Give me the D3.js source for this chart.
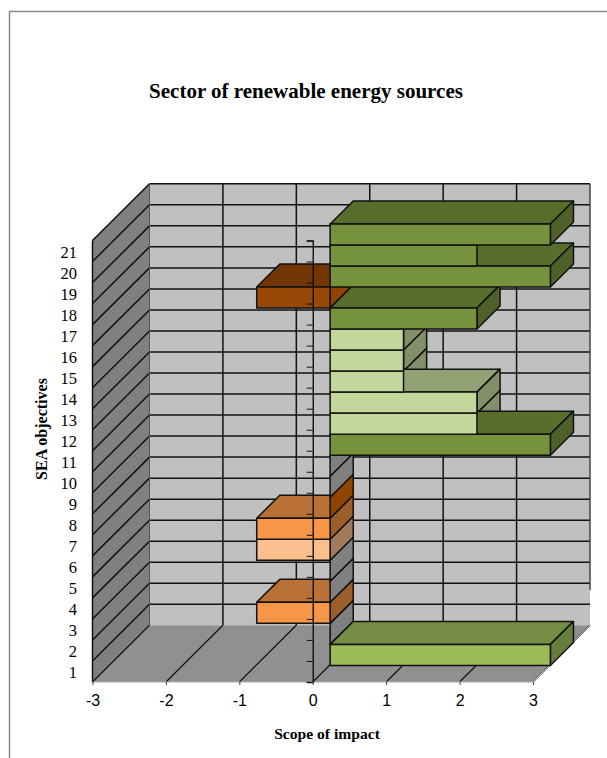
<!DOCTYPE html>
<html><head><meta charset="utf-8">
<script src="https://cdn.jsdelivr.net/npm/d3@7"></script>
<style>html,body{margin:0;padding:0;background:#fff}svg{display:block}</style>
</head><body><div id="c"></div>
<script>
const categories = d3.range(1, 22).map(String);
const values = [3, 0, -1, 0, 0, -1, -1, 0, 0, 0, 3, 2, 2, 1, 1, 1, 2, -1, 3, 2, 3];
const tones = ["lime","none","orange","none","none","pale","orange","brown","none","none","green","sage","sage","sage","sage","sage","green","brown","green","green","green"];
const xTicks = [-3, -2, -1, 0, 1, 2, 3];
const titleText = "Sector of renewable energy sources";
const xTitle = "Scope of impact";
const yTitle = "SEA objectives";

const palette = {
  lime:   {front:"#9bbb59", top:"#748c43", side:"#677d3b"},
  none:   {front:"#808080", top:"#808080", side:"#808080"},
  orange: {front:"#f79646", top:"#b97135", side:"#9c5f2c"},
  pale:   {front:"#fcc08e", top:"#bd906a", side:"#a07a5a"},
  brown:  {front:"#974806", top:"#713604", side:"#8f4400"},
  green:  {front:"#76923c", top:"#596e2d", side:"#4f6128"},
  sage:   {front:"#c3d69b", top:"#92a174", side:"#838f68"}
};

const W = 607, H = 758;
const svg = d3.select("#c").append("svg").attr("width", W).attr("height", H);

const x = d3.scaleLinear().domain([-3, 3]).range([92.5, 533]);
const y = d3.scaleLinear().domain([0, 21]).range([682, 240.5]);
const band = d3.scaleBand().domain(categories).range([682, 240.5]);
const DX = 57, DY = 56.7;
const P = (v, c, d) => [x(v) + DX * d, y(c) - DY * d];
const pts = a => a.map(p => p.map(n => n.toFixed(2)).join(",")).join(" ");
const d0 = 0.305, d1 = 0.71;
const line = "#111";
const sw = 1.5;

svg.append("path").attr("d", `M9.5,${H}V11.5H${W}`).attr("fill","none").attr("stroke","#8a8a8a").attr("stroke-width",1.5);

const g = svg.append("g");
g.append("polygon").attr("points", pts([P(-3,0,1),P(3,0,1),P(3,21,1),P(-3,21,1)])).attr("fill","#c0c0c0");
g.append("polygon").attr("points", pts([P(-3,0,0),P(-3,0,1),P(-3,21,1),P(-3,21,0)])).attr("fill","#808080");
g.append("polygon").attr("points", pts([P(-3,0,0),P(3,0,0),P(3,0,1),P(-3,0,1)])).attr("fill","#909090");

const gl = g.append("g").attr("stroke", line).attr("stroke-width",sw).attr("fill","none");
const seg = (a,b) => gl.append("line").attr("x1",a[0]).attr("y1",a[1]).attr("x2",b[0]).attr("y2",b[1]);
d3.range(1,22).forEach(c => {
  seg(P(-3,c,1), P(3,c,1));
  seg(P(-3,c,0), P(-3,c,1));
});
xTicks.forEach(v => {
  if (v > -3 && v < 3) seg(P(v,0,1), P(v,21,1));
  if (v > -3) seg(P(v,0,0), P(v,0,1)).attr("stroke-width",1.2);
});
seg(P(-3,0,0), P(-3,0,1)).attr("stroke-width",1.2);
seg(P(-3,21,0), P(-3,0,0));
seg(P(-3,21,1), P(-3,0,1)).attr("stroke","#555").attr("stroke-width",1);
seg(P(3,21,1), P(3,1.68,1)).attr("stroke","#444");
svg.append("line").attr("x1",x(-3)).attr("x2",x(3)).attr("y1",682).attr("y2",682).attr("stroke","#aaa").attr("stroke-width",1);
svg.append("line").attr("x1",x(3)).attr("y1",682).attr("x2",x(3)+DX).attr("y2",682-DY).attr("stroke","#ccc").attr("stroke-width",1);

const bars = categories.map((c,i) => ({c, i, v: values[i], lo: Math.min(0,values[i]), hi: Math.max(0,values[i]), col: palette[tones[i]]}));
const bg = svg.append("g").attr("transform","translate(0,0.7)").attr("stroke", line).attr("stroke-width",sw).attr("stroke-linejoin","round");
// paint by bar end, left to right: top faces, then end faces at that x
d3.sort(d3.union(bars.map(b => b.hi))).forEach(h => {
  bars.filter(b => b.hi === h && b.hi > b.lo).forEach(b => {
    bg.append("polygon").attr("fill", b.col.top).attr("points", pts([P(b.lo,b.i+1,d0),P(b.hi,b.i+1,d0),P(b.hi,b.i+1,d1),P(b.lo,b.i+1,d1)]));
  });
  bars.filter(b => b.hi === h).forEach(b => {
    bg.append("polygon").attr("fill", b.col.side).attr("points", pts([P(b.hi,b.i,d0),P(b.hi,b.i,d1),P(b.hi,b.i+1,d1),P(b.hi,b.i+1,d0)]));
  });
});
bars.filter(b => b.hi > b.lo).forEach(b => {
  bg.append("polygon").attr("fill", b.col.front).attr("points", pts([P(b.lo,b.i,d0),P(b.hi,b.i,d0),P(b.hi,b.i+1,d0),P(b.lo,b.i+1,d0)]));
});

const zeroAxis = svg.append("g").attr("transform",`translate(${x(0)},0)`)
  .call(d3.axisLeft(y).tickValues(d3.range(0,22)).tickSize(6).tickFormat(""));
zeroAxis.selectAll("path").attr("stroke", line).attr("stroke-width",1.4);
zeroAxis.selectAll("line").attr("stroke", line).attr("stroke-width",1);

const xa = svg.append("g").attr("transform","translate(0,682)")
  .call(d3.axisBottom(x).tickValues(xTicks).tickSize(3).tickPadding(10).tickFormat(String));
xa.select(".domain").remove();
xa.selectAll("line").attr("stroke","#444");
xa.selectAll("text").attr("font-family","'Liberation Sans',Arial,sans-serif").attr("font-size",16).attr("fill","#000");

const ya = svg.append("g").attr("transform","translate(77,1.5)")
  .call(d3.axisLeft(band).tickSize(0).tickPadding(0));
ya.select(".domain").remove();
ya.selectAll("text").attr("font-family","'Liberation Serif','Times New Roman',serif").attr("font-size",16.5).attr("fill","#000");

const serif = "'Liberation Serif','Times New Roman',serif";
svg.append("text").attr("x",306).attr("y",98).attr("text-anchor","middle").attr("font-family",serif)
  .attr("font-weight","bold").attr("font-size",21).text(titleText);
svg.append("text").attr("x",327).attr("y",739).attr("text-anchor","middle").attr("font-family",serif)
  .attr("font-weight","bold").attr("font-size",15.6).text(xTitle);
svg.append("text").attr("transform","translate(47,429) rotate(-90)").attr("text-anchor","middle").attr("font-family",serif)
  .attr("font-weight","bold").attr("font-size",16).text(yTitle);
</script></body></html>
